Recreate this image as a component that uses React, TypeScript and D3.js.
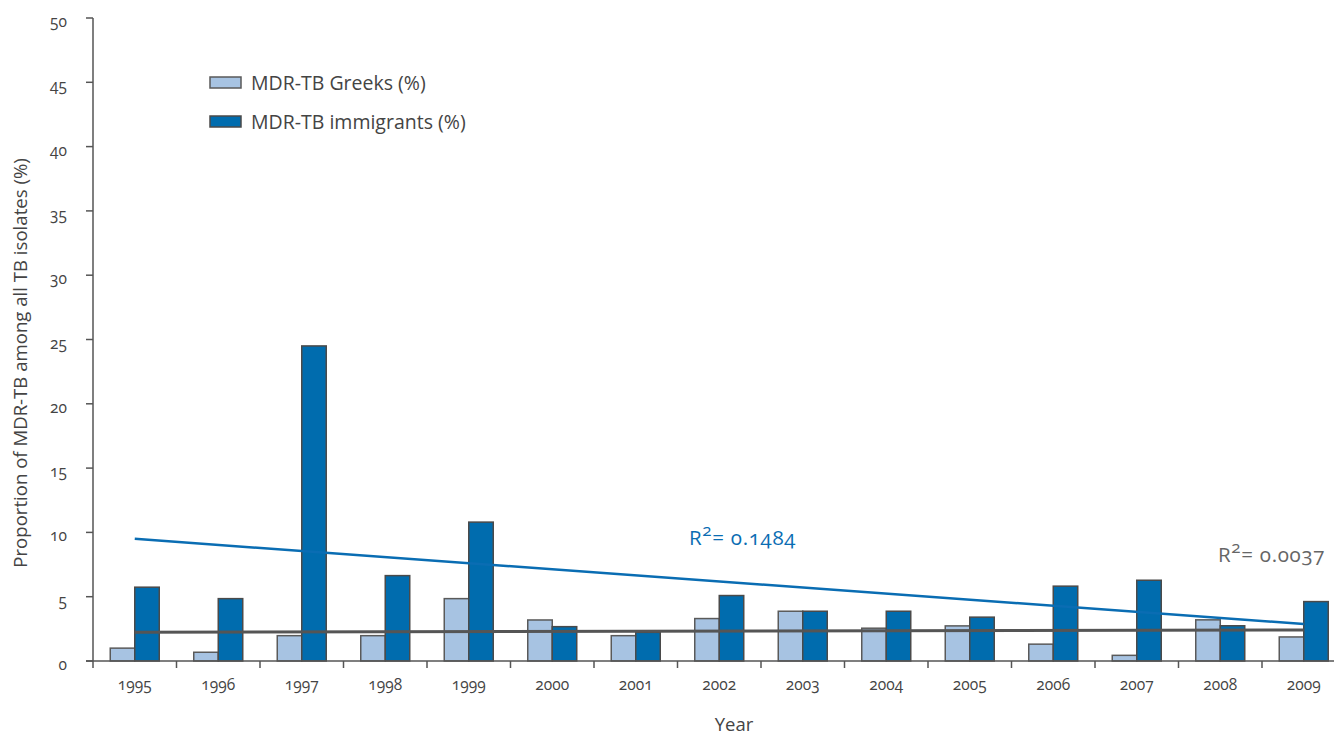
import React from "react";
import * as d3 from "d3";

const years = ["1995","1996","1997","1998","1999","2000","2001","2002","2003","2004","2005","2006","2007","2008","2009"];
const greeks = [1.0,0.68,1.97,1.97,4.85,3.19,1.97,3.3,3.87,2.55,2.73,1.31,0.44,3.2,1.87];
const immigrants = [5.74,4.85,24.5,6.64,10.8,2.67,2.23,5.09,3.87,3.87,3.41,5.82,6.28,2.74,4.62];
const yTicks = [0,5,10,15,20,25,30,35,40,45,50];
// trend line endpoints (1995, 2009)
const trendImmigrants = [9.5, 2.88];
const trendGreeks = [2.23, 2.41];
const seriesNames = ["MDR-TB Greeks (%)", "MDR-TB immigrants (%)"];
const r2Labels = ["0.1484", "0.0037"];

const W = 1334, H = 735;
const left = 93, zeroY = 661, topY = 18;
const step = 83.5;

export default function App() {
  const x0 = d3.scaleBand<string>().domain(years).range([left, left + step * years.length]);
  const y = d3.scaleLinear().domain([0, 50]).range([zeroY, topY]);
  const barW = 24.5;
  const lightFill = "#a7c3e2";
  const darkFill = "#006cae";
  const barStroke = "#4a4a4a";
  const axisCol = "#555";
  const textCol = "#444";
  const font = "'Open Sans', 'Noto Sans', sans-serif";
  const onum = { fontVariantNumeric: "oldstyle-nums" as const };
  const cx = (yr: string) => (x0(yr) as number) + x0.bandwidth() / 2;
  const x1 = cx(years[0]);
  const x2 = cx(years[years.length - 1]);
  return (
    <svg width={W} height={H} style={{ position: "absolute", left: 0, top: 0, background: "#fff" }} fontFamily={font}>
      {/* bars */}
      {years.map((yr, i) => (
        <g key={yr}>
          <rect x={cx(yr) - barW} y={y(greeks[i])} width={barW} height={zeroY - y(greeks[i])} fill={lightFill} stroke="#5a5a5a" strokeWidth={1.5} />
          <rect x={cx(yr)} y={y(immigrants[i])} width={barW} height={zeroY - y(immigrants[i])} fill={darkFill} stroke={barStroke} strokeWidth={1.5} />
        </g>
      ))}
      {/* trend lines */}
      <line x1={x1} x2={x2} y1={y(trendImmigrants[0])} y2={y(trendImmigrants[1])} stroke="#0a6db3" strokeWidth={2.5} />
      <line x1={x1} x2={x2} y1={y(trendGreeks[0])} y2={y(trendGreeks[1])} stroke="#555" strokeWidth={3} />
      {/* y axis */}
      <line x1={left} x2={left} y1={topY} y2={zeroY} stroke={axisCol} strokeWidth={1.5} />
      {yTicks.map((t) => (
        <g key={t}>
          <line x1={left - 7} x2={left} y1={y(t)} y2={y(t)} stroke={axisCol} strokeWidth={1.5} />
          <text x={left - 26} y={y(t) + 9} textAnchor="end" fontSize={15.5} fill={textCol} style={onum}>{t}</text>
        </g>
      ))}
      {/* x axis */}
      <line x1={left - 7} x2={W} y1={zeroY} y2={zeroY} stroke={axisCol} strokeWidth={1.5} />
      {years.map((yr) => (
        <line key={"t" + yr} x1={x0(yr) as number} x2={x0(yr) as number} y1={zeroY} y2={zeroY + 7} stroke={axisCol} strokeWidth={1.5} />
      ))}
      {years.map((yr) => (
        <text key={"l" + yr} x={cx(yr)} y={690} textAnchor="middle" fontSize={15.5} fill={textCol} style={onum}>{yr}</text>
      ))}
      <text x={734} y={731} textAnchor="middle" fontSize={18.5} fill={textCol}>Year</text>
      <text transform={`translate(27,363) rotate(-90)`} textAnchor="middle" fontSize={18.6} fill={textCol}>Proportion of MDR-TB among all TB isolates (%)</text>
      {/* legend */}
      <rect x={210} y={77} width={31} height={11} fill={lightFill} stroke="#5a5a5a" strokeWidth={1.5} />
      <text x={251} y={90} fontSize={19.5} fill={textCol}>{seriesNames[0]}</text>
      <rect x={210} y={116} width={31} height={11} fill={darkFill} stroke={barStroke} strokeWidth={1.5} />
      <text x={251} y={129} fontSize={19.5} fill={textCol}>{seriesNames[1]}</text>
      {/* R2 labels */}
      <text x={689} y={545} fontSize={20.5} letterSpacing={0.7} fill="#0a6db3" style={onum}>R<tspan fontSize={17} dy={-9}>2</tspan><tspan dy={9}>{"= " + r2Labels[0]}</tspan></text>
      <text x={1218} y={562} fontSize={20.5} letterSpacing={0.7} fill="#666" style={onum}>R<tspan fontSize={17} dy={-9}>2</tspan><tspan dy={9}>{"= " + r2Labels[1]}</tspan></text>
    </svg>
  );
}
